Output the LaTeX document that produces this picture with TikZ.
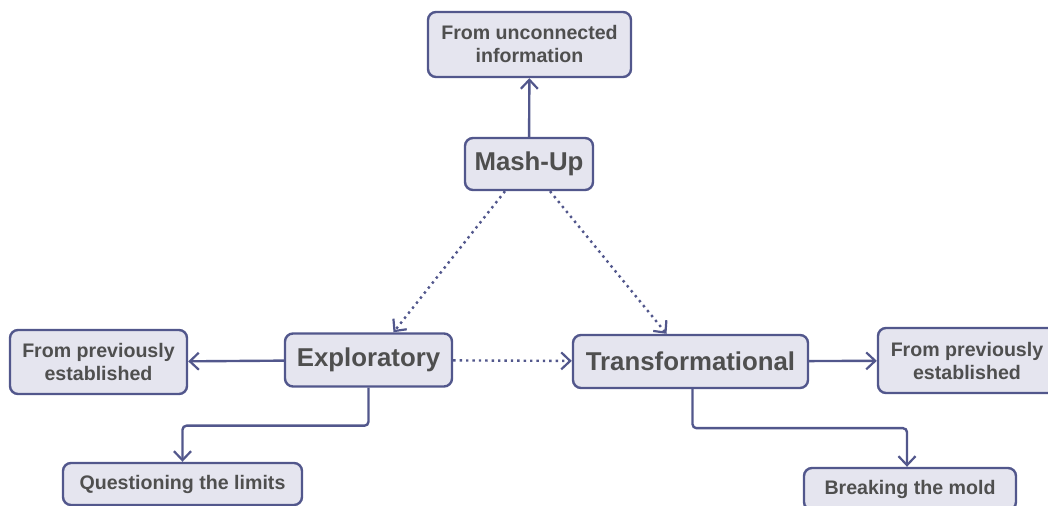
\documentclass[tikz,border=0pt]{standalone}
\usepackage{fontspec}
\setmainfont{Liberation Sans}
\usepackage{tikz}
\usetikzlibrary{arrows.meta,positioning}

\definecolor{boxline}{HTML}{52578C}
\definecolor{boxfill}{HTML}{E5E5EF}
\definecolor{boxtext}{HTML}{4F4F4F}

\begin{document}
\begin{tikzpicture}[x=0.5pt, y=0.5pt,
	box/.style={draw=boxline, fill=boxfill, line width=1.2pt, rounded corners=4pt,
		text=boxtext, font=\bfseries, align=center, inner sep=2pt},
	mainbox/.style={box, font=\fontsize{12.9}{15}\bfseries},
	subbox/.style={box, font=\fontsize{9.8}{11.5}\bfseries},
	arr/.style={draw=boxline, line width=1.2pt, -{Straight Barb[length=4.5pt, width=8.5pt, line width=1.1pt]}},
	elbow/.style={arr, rounded corners=2pt},
	dots/.style={arr, dotted, line width=1.2pt}]
	\useasboundingbox (0,0) rectangle (1048,-506);
	% main nodes
	\node[mainbox, minimum width=64pt, minimum height=26pt] (mashup) at (529,-164) {Mash-Up};
	\node[mainbox, minimum width=83.5pt, minimum height=26.5pt] (explor) at (368.5,-360) {Exploratory};
	\node[mainbox, minimum width=117.5pt, minimum height=26.5pt] (transf) at (690.5,-361.5) {Transformational};
	% leaves
	\node[subbox, minimum width=101.5pt, minimum height=32.5pt] (unconn) at (529.5,-44.5) {From unconnected\\information};
	\node[subbox, minimum width=88.5pt, minimum height=32pt] (prevleft) at (98.5,-362) {From previously\\established};
	\node[subbox, minimum width=89pt, minimum height=32.5pt] (prevright) at (967,-360.5) {From previously\\established};
	\node[subbox, minimum width=119.5pt, minimum height=21pt] (limits) at (182.5,-484) {Questioning the limits};
	\node[subbox, minimum width=106pt, minimum height=21pt] (mold) at (910,-489) {Breaking the mold};
	% connectors
	\draw[arr] (mashup) -- (unconn);
	\draw[arr] (explor) -- (prevleft);
	\draw[arr] (transf) -- (prevright);
	\draw[elbow] (explor.south) -- ++(0,-38) -| (limits.north);
	\draw[elbow] ([xshift=1pt]transf.south) -- ++(0,-39) -| ([xshift=-1.5pt]mold.north);
	\draw[dots] ([xshift=-12pt]mashup.south) -- ([xshift=12.5pt]explor.north);
	\draw[dots] ([xshift=10.5pt]mashup.south) -- ([xshift=-12pt]transf.north);
	\draw[dots] (explor) -- (transf);
\end{tikzpicture}
\end{document}
